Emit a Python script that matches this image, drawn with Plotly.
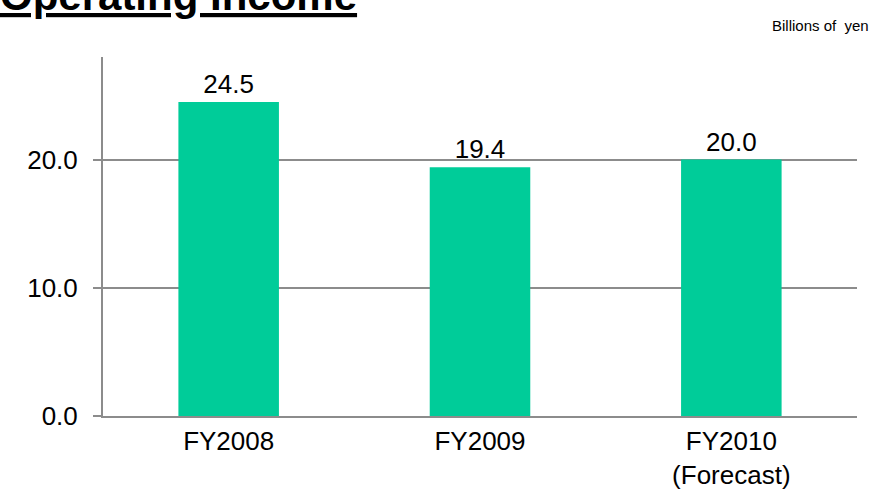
import plotly.graph_objects as go

categories = ["FY2008", "FY2009", "FY2010"]
tick_labels = ["FY2008", "FY2009", "FY2010<br>(Forecast)"]
values = [24.5, 19.4, 20.0]
value_labels = ["24.5", "19.4", "20.0"]
y_ticks = [0, 10, 20]
y_tick_labels = ["0.0", "10.0", "20.0"]

FONT = "Liberation Sans, Arial, sans-serif"
GREY = "#8c8c8c"

fig = go.Figure()
fig.add_trace(go.Bar(
    x=categories, y=values, text=value_labels,
    textposition="outside", cliponaxis=False,
    textfont=dict(size=26, color="black", family=FONT),
    marker=dict(color="#00CC99", line=dict(width=0)),
    width=0.4,
))

fig.update_layout(
    width=883, height=490,
    margin=dict(l=103, r=26, t=57, b=74, autoexpand=False),
    paper_bgcolor="white", plot_bgcolor="white",
    showlegend=False,
    font=dict(family=FONT, color="black"),
    xaxis=dict(
        tickmode="array", tickvals=categories, ticktext=tick_labels,
        tickfont=dict(size=26, color="black"),
        showgrid=False, showline=True, linecolor=GREY, linewidth=2,
        ticks="", ticklabelstandoff=1, automargin=False,
    ),
    yaxis=dict(
        range=[0, 28], tickmode="array", tickvals=y_ticks, ticktext=y_tick_labels,
        tickfont=dict(size=26, color="black"),
        showgrid=True, gridcolor=GREY, gridwidth=2,
        showline=True, linecolor=GREY, linewidth=2,
        ticks="outside", ticklen=8, tickcolor=GREY, tickwidth=2,
        ticklabelstandoff=10, zeroline=False, automargin=False,
    ),
    annotations=[
        dict(text="<b><u>Operating Income</u></b>", xref="paper", yref="paper",
             x=0, xshift=-105, xanchor="left", y=1, yshift=62, yanchor="middle",
             showarrow=False, font=dict(size=42, color="black", family=FONT)),
        dict(text="Billions of&nbsp; yen", xref="paper", yref="paper",
             x=1, xshift=14, xanchor="right", y=1, yshift=32, yanchor="middle",
             showarrow=False, font=dict(size=15, color="black", family=FONT)),
    ],
)

fig.write_html("out.html", config={"displayModeBar": False},
               post_script="document.body.style.margin='0';")
